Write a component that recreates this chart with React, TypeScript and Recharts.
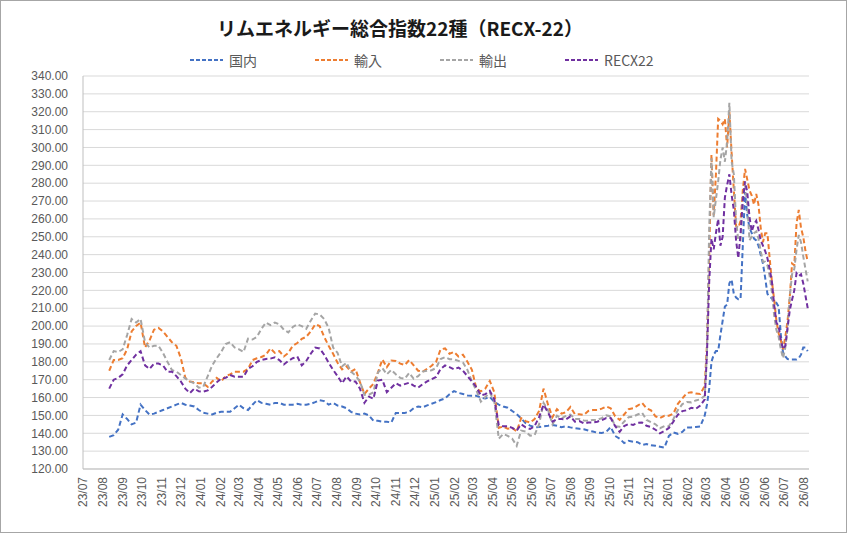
import { CartesianGrid, Line, LineChart, XAxis, YAxis } from 'recharts';

const WIDTH = 847;
const HEIGHT = 533;

const AXIS_FONT = "'Liberation Sans', 'Noto Sans CJK JP', sans-serif";
const CJK_FONT = "'Noto Sans CJK JP', 'Liberation Sans', sans-serif";
const TEXT_GREY = '#595959';
const GRID = '#d9d9d9';

const TITLE = 'リムエネルギー総合指数22種（RECX-22）';

const MONTH_LABELS = [
  '23/07', '23/08', '23/09', '23/10', '23/11', '23/12',
  '24/01', '24/02', '24/03', '24/04', '24/05', '24/06',
  '24/07', '24/08', '24/09', '24/10', '24/11', '24/12',
  '25/01', '25/02', '25/03', '25/04', '25/05', '25/06',
  '25/07', '25/08', '25/09', '25/10', '25/11', '25/12',
  '26/01', '26/02', '26/03', '26/04', '26/05', '26/06',
  '26/07', '26/08',
];

const Y_TICKS = [
  120, 130, 140, 150, 160, 170, 180, 190, 200, 210, 220, 230,
  240, 250, 260, 270, 280, 290, 300, 310, 320, 330, 340,
];

// weekly readings from 2023-08-11 (133 points) ...
const domesticWeekly = [
  138, 139, 142, 150.5, 148, 145, 146, 156, 153, 150.5,
  151, 152, 153, 154, 155, 156, 157, 156, 155.5, 155,
  153, 151.5, 151, 150.5, 151.5, 152, 152, 152, 154, 156,
  154, 153, 156, 158.5, 157, 156.5, 156, 157, 157, 156,
  156, 156, 156.5, 156, 156, 156.5, 157.4, 158.5, 158, 156,
  157, 155.5, 155, 154, 152, 151, 150.5, 151, 150, 147,
  147, 146.5, 146.5, 146, 151.4, 151.4, 151.4, 152, 154, 155,
  154.5, 155.6, 156.5, 157.4, 158.6, 159.5, 161.8, 163.6, 162.6, 162,
  161.2, 161, 161, 160, 159.5, 160.3, 157.5, 156, 155, 154.3,
  152.5, 150.7, 148.3, 145.7, 144.3, 143.4, 143.5, 143.9, 144.2, 144.6,
  144.2, 143.4, 143.9, 143.3, 142.8, 142.5, 142.2, 141.5, 141, 140.3,
  140.2, 140.8, 143.5, 138.5, 137, 134.5, 135.8, 135.3, 135, 133.5,
  134, 133.3, 133, 132.5, 132, 138.5, 140.5, 139.7, 140.8, 143.3,
  143.3, 143.5, 143.8,
];
const importWeekly = [
  175, 181, 181, 182, 187, 197, 200, 202, 188, 192,
  198, 199, 197, 194, 191, 189, 182, 171, 169, 168.5,
  168, 168, 166, 169, 171, 169, 172, 173, 174.5, 174.5,
  174.5, 176, 181, 182, 182.7, 184, 187.5, 185, 186, 183,
  185, 189, 190.5, 192.8, 194, 197, 201, 200, 194, 189,
  184.5, 179.5, 175.8, 177.5, 174.5, 176, 168.6, 162, 165, 167.7,
  174, 181.3, 177, 180.7, 180.5, 179, 178.2, 181, 178, 175,
  174.5, 176, 177.8, 180, 187, 187.5, 184.5, 185.5, 183, 184,
  180, 175.5, 165, 163.5, 165, 169.3, 163, 143, 143.8, 142.5,
  143, 141, 148.5, 146.8, 146, 148, 152.5, 165, 156, 149,
  153.5, 151, 151.7, 154.7, 150.7, 150.7, 150.3, 152.5, 153, 153,
  153.8, 155, 154, 149.5, 147.5, 150.5, 153.5, 154, 155.5, 157,
  154, 152.8, 149.5, 148.5, 149.8, 149.8, 151, 156.5, 159.5, 162.5,
  163, 162.2, 162,
];
const exportWeekly = [
  181, 186, 185.5, 187, 195, 204, 202, 204, 191, 188,
  189, 189, 185, 180, 175.4, 174.5, 172.6, 170.7, 169, 168,
  165.5, 166, 172, 178, 182, 185.5, 190, 191, 188, 187,
  185.5, 193, 192.5, 194, 198.5, 202, 200.5, 202, 201, 198,
  196.5, 199.5, 201, 200, 198.5, 203, 207, 206.5, 204, 199,
  188, 185, 177.5, 179.5, 174.5, 172.3, 169, 161.5, 161.6, 163,
  174, 176.5, 173, 175.5, 173, 171, 170.6, 173.8, 170.5, 172,
  174.5, 175, 175.3, 176.5, 181.6, 182.6, 181.5, 181.4, 180.5, 179.6,
  175.5, 169, 164, 157.7, 160.3, 162.8, 158, 137, 139.6, 138.5,
  137, 133, 141.5, 141, 138.7, 139, 145, 157, 153, 145,
  149.8, 148.3, 149.7, 150.5, 148, 148, 147.2, 147, 147.5, 147.5,
  148.5, 150, 149.5, 144, 143.7, 146.5, 149, 149.3, 150.5, 151.5,
  147.5, 146.2, 145, 142.8, 144, 144, 148, 153, 156.3, 157.5,
  157.3, 158.4, 159,
];
const recxWeekly = [
  165, 170, 171, 173, 178, 181, 184, 186, 178, 176,
  179, 179, 178, 174.5, 174.5, 172, 169, 165, 162.5, 165,
  163.5, 163.3, 164, 166, 168.5, 170.7, 171, 172.6, 171.7, 171.7,
  171.7, 176, 177.5, 180, 181, 181.6, 181.8, 182.5, 181, 178.5,
  180.5, 182, 183, 178, 180.5, 184.5, 188, 187.5, 184, 179.5,
  175.5, 172, 168, 171.8, 169, 169, 165, 157, 160.5, 159.3,
  169.5, 170, 163, 165.5, 168, 166.7, 167.5, 168.3, 166.7, 165.5,
  167.5, 169, 170.3, 171.5, 176, 178, 177, 175.8, 176.8, 175,
  172, 169, 165.8, 161.2, 161.9, 163.8, 159, 144.5, 144, 144,
  143, 141.5, 145, 143.3, 142.4, 144, 149, 156, 151.7, 146.5,
  148, 148, 147.8, 149.5, 146.5, 146.8, 145.5, 146, 146, 146.5,
  147.3, 148.5, 148.5, 144, 140.8, 144, 145.2, 144.7, 145.8, 146,
  144.2, 143.5, 142, 140, 141.3, 143, 146.5, 150.4, 152.4, 152.9,
  154.3, 153.7, 155.5,
];

// ... then twice-weekly readings from 2026-02-27, where the series get volatile
const domesticTail = [
  150, 156, 165, 180, 184, 186, 186, 195, 203, 211,
  212, 224, 226, 218, 216, 215, 215, 245, 275, 262,
  255, 252, 249, 248, 245, 240, 235, 227, 218, 216.5,
  215.5, 213, 213, 211, 195, 185, 183, 181.5, 181.3, 181.3,
  181.3, 181.3, 182, 184, 188, 188, 186,
];
const importTail = [
  166.5, 190, 240, 296, 262, 285, 316, 315, 313, 316,
  300, 320, 297, 276, 256, 255, 259, 276, 288, 282,
  276, 273, 268, 274, 268, 255, 247, 252, 252, 238,
  225, 215, 203, 196, 192, 187, 194, 203, 216.6, 235,
  234, 257.5, 265, 255, 250, 242, 236,
];
const exportTail = [
  161, 185, 255, 294, 261, 271, 281, 293, 300, 292,
  303, 325, 292, 285, 259, 248, 248, 272, 279, 268,
  248, 250, 252, 253, 249, 242, 236, 236, 234, 228,
  219, 206, 198, 194, 187, 182, 188, 199, 216.6, 229,
  232, 242.6, 251, 247, 239, 232, 225,
];
const recxTail = [
  159, 185, 225, 249, 243, 252, 260, 245, 250, 272,
  279, 285, 273.5, 265, 248, 238, 252, 270, 281, 275,
  261, 253, 257, 259, 254, 248, 245, 242, 238, 232,
  225, 212, 202, 200, 192, 187, 189, 199, 209, 214.7,
  220, 229.6, 228, 229, 224, 217, 210,
];

const DAY_MS = 86400000;
const SERIES_START = Date.UTC(2023, 7, 11);
const TAIL_START_DAY = 931; // 2026-02-27

const SERIES = [
  { key: 'domestic', name: '国内', color: '#4472C4' },
  { key: 'imports', name: '輸入', color: '#ED7D31' },
  { key: 'exports', name: '輸出', color: '#A5A5A5' },
  { key: 'recx', name: 'RECX22', color: '#7030A0' },
];

const monthToTime = (label: string) => {
  const [yy, mm] = label.split('/').map(Number);
  return Date.UTC(2000 + yy, mm - 1, 1);
};
const MONTH_TICKS = MONTH_LABELS.map(monthToTime);
const X_MIN = MONTH_TICKS[0];
const X_MAX = Date.UTC(2026, 7, 9);

const sampleTimes = [
  ...domesticWeekly.map((_, i) => SERIES_START + i * 7 * DAY_MS),
  ...domesticTail.map((_, i) => SERIES_START + (TAIL_START_DAY + i * 3.5) * DAY_MS),
];
const domestic = [...domesticWeekly, ...domesticTail];
const imports = [...importWeekly, ...importTail];
const exports = [...exportWeekly, ...exportTail];
const recx = [...recxWeekly, ...recxTail];

const data = sampleTimes.map((t, i) => ({
  t,
  domestic: domestic[i],
  imports: imports[i],
  exports: exports[i],
  recx: recx[i],
}));

function formatMonth(t: number): string {
  const d = new Date(t);
  const yy = String(d.getUTCFullYear() % 100).padStart(2, '0');
  const mm = String(d.getUTCMonth() + 1).padStart(2, '0');
  return `${yy}/${mm}`;
}

function MonthTick({ x, y, payload }: any) {
  return (
    <g transform={`translate(${x},${y})`}>
      <text
        transform="rotate(-90)"
        textAnchor="end"
        dy="0.35em"
        fill={TEXT_GREY}
        fontSize={12}
        fontFamily={AXIS_FONT}
      >
        {formatMonth(payload.value)}
      </text>
    </g>
  );
}

function ChartLegend() {
  return (
    <div
      style={{
        position: 'absolute',
        top: 51,
        left: 190,
        display: 'flex',
        fontFamily: CJK_FONT,
        fontSize: 14,
        lineHeight: '18px',
        color: TEXT_GREY,
      }}
    >
      {SERIES.map((s) => (
        <div key={s.key} style={{ width: 125, display: 'flex', alignItems: 'center' }}>
          <svg width={33} height={4}>
            <line x1={0} y1={2} x2={33} y2={2} stroke={s.color} strokeWidth={2} strokeDasharray="4 2" />
          </svg>
          <span style={{ marginLeft: 6 }}>{s.name}</span>
        </div>
      ))}
    </div>
  );
}

export default function App() {
  return (
    <div
      style={{
        position: 'absolute',
        left: 0,
        top: 0,
        width: WIDTH,
        height: HEIGHT,
        background: '#ffffff',
      }}
    >
      <div
        style={{
          position: 'absolute',
          top: 15,
          left: 0,
          width: 800,
          textAlign: 'center',
          fontFamily: CJK_FONT,
          fontWeight: 'bold',
          fontSize: 19,
          lineHeight: '26px',
          color: '#1a1a1a',
        }}
      >
        {TITLE}
      </div>
      <ChartLegend />
      <LineChart
        width={WIDTH}
        height={HEIGHT}
        data={data}
        margin={{ top: 76, right: 38, bottom: 9, left: 8 }}
      >
        <CartesianGrid vertical={false} stroke={GRID} />
        <XAxis
          dataKey="t"
          type="number"
          scale="linear"
          domain={[X_MIN, X_MAX]}
          ticks={MONTH_TICKS}
          interval={0}
          allowDataOverflow
          height={55}
          stroke="#bfbfbf"
          tickLine={false}
          tick={<MonthTick />}
        />
        <YAxis
          domain={[120, 340]}
          ticks={Y_TICKS}
          interval={0}
          width={75}
          stroke="#bfbfbf"
          tickLine={false}
          tickMargin={9}
          tickFormatter={(v: number) => v.toFixed(2)}
          tick={{ fill: TEXT_GREY, fontSize: 12, fontFamily: AXIS_FONT }}
        />
        {SERIES.map((s) => (
          <Line
            key={s.key}
            type="linear"
            dataKey={s.key}
            name={s.name}
            stroke={s.color}
            strokeWidth={2}
            strokeDasharray="5 3"
            dot={false}
            isAnimationActive={false}
          />
        ))}
      </LineChart>
      <div
        style={{
          position: 'absolute',
          inset: 0,
          border: '1px solid #a6a6a6',
          boxSizing: 'border-box',
          pointerEvents: 'none',
        }}
      />
    </div>
  );
}
